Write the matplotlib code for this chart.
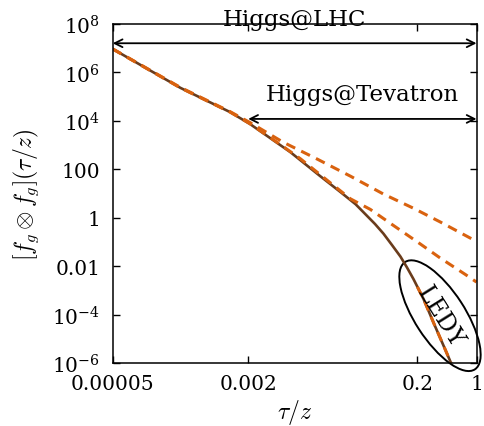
import numpy as np
import matplotlib
matplotlib.use('Agg')
import matplotlib.pyplot as plt
from matplotlib.patches import Ellipse
from matplotlib.transforms import ScaledTranslation

plt.rcParams['font.family'] = 'DejaVu Serif'
plt.rcParams['mathtext.fontset'] = 'custom'
plt.rcParams['mathtext.rm'] = 'DejaVu Serif'

# full result (solid)
x_full = [5e-5, 3.16e-4, 1.22e-3, 2.1e-3, 6.3e-3, 0.0142, 0.0247, 0.0372, 0.0501, 0.0631,
          0.0794, 0.1, 0.126, 0.151, 0.18, 0.2, 0.237, 0.316, 0.398, 0.5]
y_full = [9.3e6, 2.3e5, 2.3e4, 7.4e3, 510, 52, 11.4, 3.6, 1.25, 0.55,
          0.22, 0.075, 0.025, 8.7e-3, 2.9e-3, 1.4e-3, 4.3e-4, 4.0e-5, 6.3e-6, 1.0e-6]

# upper dashed approximation
x_up = [5e-5, 3.16e-4, 1.22e-3, 2.1e-3, 5.2e-3, 0.0131, 0.0323, 0.0793, 0.178, 0.375, 1.0]
y_up = [9.3e6, 2.4e5, 2.4e4, 8.5e3, 1.3e3, 263, 52, 9.5, 2.5, 0.66, 0.105]

# lower dashed approximation
x_low = [5e-5, 3.16e-4, 1.22e-3, 2.1e-3, 5.0e-3, 8.3e-3, 0.0186, 0.0324, 0.0556,
         0.105, 0.2, 0.37, 0.74, 1.0]
y_low = [9.3e6, 2.3e5, 2.3e4, 7.6e3, 950, 270, 28, 6.0, 2.2,
         0.47, 0.1, 0.022, 4.5e-3, 2.2e-3]

# threshold (LEDY) dashed approximation
x_ledy = [0.2, 0.237, 0.316, 0.398, 0.5]
y_ledy = [1.4e-3, 4.3e-4, 4.0e-5, 6.3e-6, 1.0e-6]

xticks = [5e-5, 2e-3, 0.2, 1]
xticklabels = ['0.00005', '0.002', '0.2', '1']
yticks = [1e-6, 1e-4, 1e-2, 1, 100, 1e4, 1e6, 1e8]
yticklabels = [r'$10^{-6}$', r'$10^{-4}$', '0.01', '1', '100', r'$10^{4}$', r'$10^{6}$', r'$10^{8}$']

brown = '#6a3c1c'
orange = '#d9620f'

fig = plt.figure(figsize=(4.85, 4.27), dpi=100)
ax = fig.add_axes([0.2324, 0.1475, 0.7501, 0.794])

ax.plot(x_full, y_full, '-', color=brown, lw=1.9)
for xs, ys in [(x_up, y_up), (x_low, y_low), (x_ledy, y_ledy)]:
    ax.plot(xs, ys, '--', color=orange, lw=2.2, dashes=(3.2, 2.2))

ax.set_xscale('log')
ax.set_yscale('log')
ax.set_xlim(5e-5, 1)
ax.set_ylim(1e-6, 1e8)
ax.set_xticks(xticks)
ax.set_xticklabels(xticklabels)
ax.set_yticks(yticks)
ax.set_yticklabels(yticklabels)
ax.minorticks_off()
ax.tick_params(which='both', direction='in', top=True, right=True, length=5,
               width=1.0, labelsize=14.5)
ax.tick_params(axis='x', pad=8)
ax.tick_params(axis='y', pad=9)
for s in ax.spines.values():
    s.set_linewidth(1.1)

ax.set_xlabel(r'$\tau/z$', fontsize=17, math_fontfamily='cm', labelpad=3)
ax.set_ylabel(r'$[f_g\otimes f_g](\tau/z)$', fontsize=17, math_fontfamily='cm', labelpad=8)

# process ranges
ax.annotate('', xy=(5e-5, 1.6e7), xytext=(1, 1.6e7),
            arrowprops=dict(arrowstyle='<->', lw=1.3, color='k', shrinkA=0, shrinkB=0,
                            mutation_scale=14))
ax.text(10**-2.15, 10**8.2, 'Higgs@LHC', ha='center', va='center', fontsize=16.5, clip_on=False)
ax.annotate('', xy=(2e-3, 1.2e4), xytext=(1, 1.2e4),
            arrowprops=dict(arrowstyle='<->', lw=1.3, color='k', shrinkA=0, shrinkB=0,
                            mutation_scale=14))
ax.text(10**-1.35, 10**5.1, 'Higgs@Tevatron', ha='center', va='center', fontsize=16.5)

# threshold region
tr = fig.dpi_scale_trans + ScaledTranslation(0.37, 9e-5, ax.transData)
ax.add_patch(Ellipse((0, 0), 1.28, 0.50, angle=-57, transform=tr, fill=False,
                     ec='k', lw=1.4, clip_on=False))
ax.text(0.37, 9e-5, 'LEDY', rotation=-58, ha='center', va='center',
        rotation_mode='anchor', fontsize=17)

fig.savefig('out.png', dpi=100)
